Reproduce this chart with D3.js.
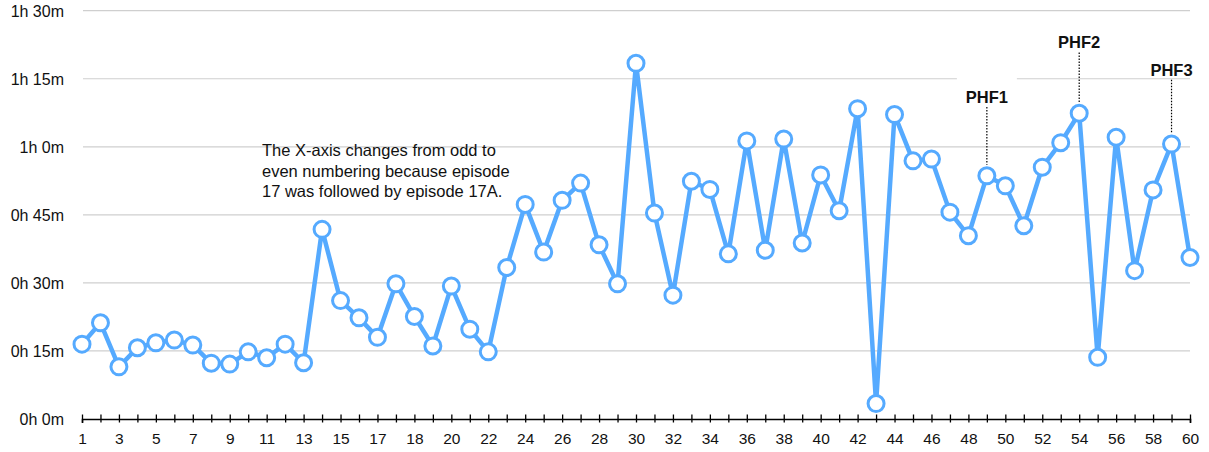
<!DOCTYPE html>
<html>
<head>
<meta charset="utf-8">
<script src="https://cdn.jsdelivr.net/npm/d3@7"></script>
<style>
  html, body { margin: 0; padding: 0; background: #fff; }
  svg { display: block; font-family: "Liberation Sans", Arial, Helvetica, sans-serif; }
</style>
</head>
<body>
<div id="chart"></div>
<script>
// episodes in air order (17A sits between 17 and 18)
const episodes = [
  "1","2","3","4","5","6","7","8","9","10","11","12","13","14","15","16","17","17A",
  "18","19","20","21","22","23","24","25","26","27","28","29","30","31","32","33","34",
  "35","36","37","38","39","40","41","42","43","44","45","46","47","48","49","50","51",
  "52","53","54","55","56","57","58","59","60"
];

// running time, minutes
const minutes = [
  16.5, 21.2, 11.5, 15.7, 16.8, 17.4, 16.3, 12.3, 12.1, 14.8, 13.5, 16.5, 12.4, 41.8,
  26.1, 22.3, 18.0, 29.8, 22.6, 16.1, 29.3, 19.8, 14.8, 33.4, 47.3, 36.8, 48.2, 52.0,
  38.4, 29.8, 78.4, 45.4, 27.3, 52.4, 50.6, 36.4, 61.3, 37.2, 61.7, 38.8, 53.8, 45.9,
  68.4, 3.4, 67.1, 56.9, 57.3, 45.6, 40.4, 53.6, 51.4, 42.6, 55.5, 60.9, 67.4, 13.6,
  62.1, 32.7, 50.5, 60.6, 35.6
];

// x labels shown (odd up to 17, then even)
const xTickLabels = [
  "1","3","5","7","9","11","13","15","17","18","20","22","24","26","28","30","32","34",
  "36","38","40","42","44","46","48","50","52","54","56","58","60"
];

const yTicks = [0, 15, 30, 45, 60, 75, 90];

const phfLabels = ["PHF1", "PHF2", "PHF3"];
const phfEpisodes = ["49", "54", "59"];
const phfLabelAt = [71, 83, 77]; // label height in minutes

const noteLines = [
  "The X-axis changes from odd to",
  "even numbering because episode",
  "17 was followed by episode 17A."
];

const width = 1209, height = 452;
const blue = "#55aaff";

const svg = d3.select("#chart").append("svg")
  .attr("width", width)
  .attr("height", height);

const x = d3.scalePoint()
  .domain(episodes)
  .range([82, 1190]);

const y = d3.scaleLinear()
  .domain([0, 90])
  .range([419, 10.7]);

const fmtTime = m => `${Math.floor(m / 60)}h ${m % 60}m`;

// gridlines
svg.append("g")
  .selectAll("line")
  .data(yTicks.filter(d => d > 0))
  .join("line")
  .attr("x1", 83)
  .attr("x2", 1190)
  .attr("y1", d => y(d))
  .attr("y2", d => y(d))
  .attr("stroke", "#cfcfcf")
  .attr("stroke-width", 1.2);

// y axis labels
const yAxis = svg.append("g")
  .attr("transform", "translate(83,0)")
  .call(d3.axisLeft(y).tickValues(yTicks).tickSize(0).tickPadding(19).tickFormat(fmtTime));
yAxis.select(".domain").remove();
yAxis.selectAll("text")
  .style("font-size", "16px")
  .style("fill", "#111")
  .attr("dy", "0.36em");

// x axis: a tick on every episode, label on every other one
const xAxis = svg.append("g")
  .attr("transform", `translate(0,${y(0)})`)
  .call(d3.axisBottom(x)
    .tickSizeOuter(0)
    .tickSize(4)
    .tickFormat(d => xTickLabels.includes(d) ? d : ""));
xAxis.select(".domain").attr("stroke", "#000").attr("stroke-width", 1.6);
xAxis.selectAll(".tick line")
  .attr("y1", -4.5)
  .attr("y2", 3.5)
  .attr("stroke", "#000")
  .attr("stroke-width", 1.3);
xAxis.selectAll(".tick text")
  .attr("y", 13.5)
  .style("font-size", "15.5px")
  .style("fill", "#111");

// note
svg.append("text")
  .attr("x", 262)
  .attr("y", 156)
  .style("font-size", "16.5px")
  .style("fill", "#111")
  .selectAll("tspan")
  .data(noteLines)
  .join("tspan")
  .attr("x", 262)
  .attr("dy", (d, i) => i === 0 ? 0 : 20.5)
  .text(d => d);

// PHF annotations
const phf = svg.append("g")
  .selectAll("g")
  .data(phfLabels.map((label, i) => ({ label, ep: phfEpisodes[i], at: phfLabelAt[i] })))
  .join("g");

phf.append("rect")
  .attr("x", d => x(d.ep) - 30)
  .attr("y", d => y(d.at) - 22)
  .attr("width", 60)
  .attr("height", 30)
  .attr("fill", "#fff");

phf.append("line")
  .attr("x1", d => x(d.ep))
  .attr("x2", d => x(d.ep))
  .attr("y1", d => y(d.at) + 10)
  .attr("y2", d => y(minutes[episodes.indexOf(d.ep)]) - 11)
  .attr("stroke", "#000")
  .attr("stroke-width", 1.2)
  .attr("stroke-dasharray", "1.5,1.5");

phf.append("text")
  .attr("x", d => x(d.ep))
  .attr("y", d => y(d.at))
  .attr("dy", "0.36em")
  .attr("text-anchor", "middle")
  .style("font-size", "16.5px")
  .style("font-weight", "bold")
  .style("fill", "#111")
  .text(d => d.label);

// line + points
const line = d3.line()
  .x((d, i) => x(episodes[i]))
  .y(d => y(d));

svg.append("path")
  .datum(minutes)
  .attr("fill", "none")
  .attr("stroke", blue)
  .attr("stroke-width", 4.5)
  .attr("stroke-linejoin", "round")
  .attr("d", line);

svg.append("g")
  .selectAll("circle")
  .data(minutes)
  .join("circle")
  .attr("cx", (d, i) => x(episodes[i]))
  .attr("cy", d => y(d))
  .attr("r", 8)
  .attr("fill", "#fff")
  .attr("stroke", blue)
  .attr("stroke-width", 3);
</script>
</body>
</html>
